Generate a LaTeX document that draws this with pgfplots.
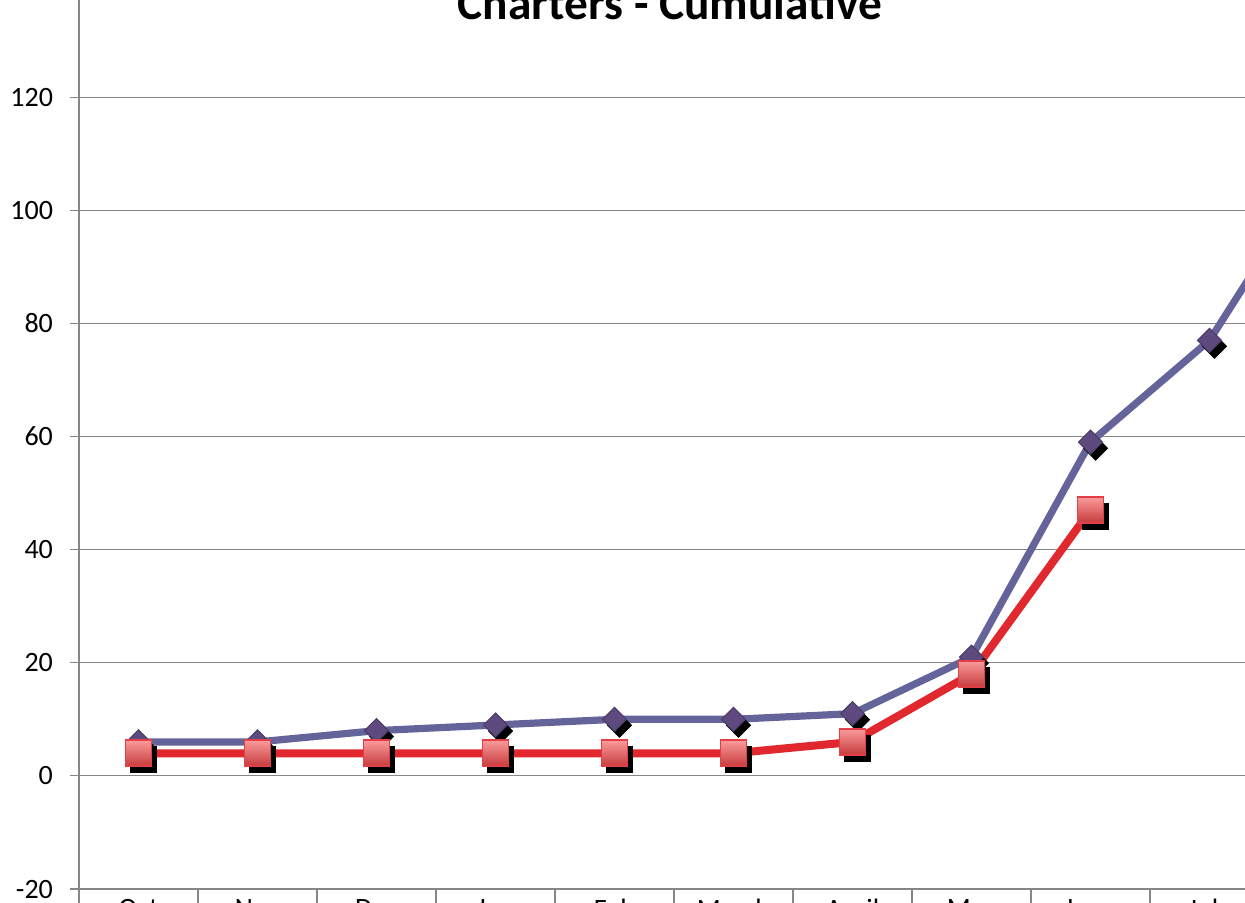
\documentclass[border=0pt]{standalone}
\usepackage{pgfplots}
\pgfplotsset{compat=1.18}
\usepackage{fontspec}
\setmainfont{Carlito}

\definecolor{gridgray}{RGB}{134,134,134}
\definecolor{bline}{RGB}{100,100,154}
\definecolor{bmark}{RGB}{94,74,126}
\definecolor{rline}{RGB}{224,40,46}
\definecolor{sqtop}{RGB}{250,155,155}
\definecolor{sqbot}{RGB}{198,58,60}
\definecolor{sqedge}{RGB}{226,64,70}

% gradient square for the red series
\pgfdeclareverticalshading{redsq}{100bp}{color(0bp)=(sqbot); color(25bp)=(sqbot); color(75bp)=(sqtop); color(100bp)=(sqtop)}
\pgfdeclareplotmark{gsquare}{%
  \pgfpathrectangle{\pgfqpoint{-\pgfplotmarksize}{-\pgfplotmarksize}}{\pgfqpoint{2\pgfplotmarksize}{2\pgfplotmarksize}}%
  \pgfshadepath{redsq}{0}%
  \pgfpathrectangle{\pgfqpoint{-\pgfplotmarksize}{-\pgfplotmarksize}}{\pgfqpoint{2\pgfplotmarksize}{2\pgfplotmarksize}}%
  \pgfusepathqstroke}

\pgfplotstableread{
x y
0 6
1 6
2 8
3 9
4 10
5 10
6 11
7 21
8 59
9 77
10 110
}\total

\pgfplotstableread{
x y
0 4
1 4
2 4
3 4
4 4
5 4
6 6
7 18
8 47
}\charters

\begin{document}
\begin{tikzpicture}
\begin{axis}[name=ax, scale only axis,
  width=654.5pt, height=452.5pt,
  xmin=-0.5, xmax=10.5, ymin=-20, ymax=140,
  ytick={-20,0,...,140},
  ymajorgrids, grid style={gridgray, line width=0.6pt},
  axis lines*=left, axis line style={gridgray, line width=0.6pt},
  tick style={gridgray, line width=0.6pt},
  tick align=outside, major tick length=4.5pt, minor tick length=9pt,
  xtick={-0.5,0.5,...,10.5}, minor xtick={-0.5,0.5,...,10.5},
  x tick label as interval,
  xticklabels={Oct,Nov,Dec,Jan,Feb,March,April,May,June,July,Aug},
  ticklabel style={font=\fontsize{14}{16}\selectfont},
  xticklabel style={yshift=3pt},
  yticklabel style={xshift=-5pt},
  /pgf/number format/assume math mode=true,
  clip=true]
\addplot[bline, line width=3.6pt, no marks] table {\total};
\addplot[only marks, mark=square*, mark size=4.25pt, black,
  mark options={xshift=2.5pt, yshift=-3pt, rotate=45}] table {\total};
\addplot[only marks, mark=square*, mark size=4.25pt,
  mark options={fill=bmark, draw=bmark!80!black, line width=0.5pt, rotate=45}] table {\total};
\addplot[rline, line width=4pt, no marks] table {\charters};
\addplot[only marks, mark=square*, mark size=6.5pt, black,
  mark options={xshift=2.5pt, yshift=-3pt}] table {\charters};
\addplot[only marks, mark=gsquare, mark size=6.5pt,
  mark options={draw=sqedge, line width=0.8pt}] table {\charters};
\end{axis}
\node[anchor=base, font=\fontsize{23.7}{26}\selectfont\bfseries]
  at ([xshift=295.5pt, yshift=-18pt]ax.north west) {Charters - Cumulative};
\pgfresetboundingbox
\path[use as bounding box] ([xshift=-39.5pt, yshift=-6.5pt]ax.south west)
  rectangle ([xshift=583pt, yshift=-8pt]ax.north west);
\end{tikzpicture}
\end{document}
